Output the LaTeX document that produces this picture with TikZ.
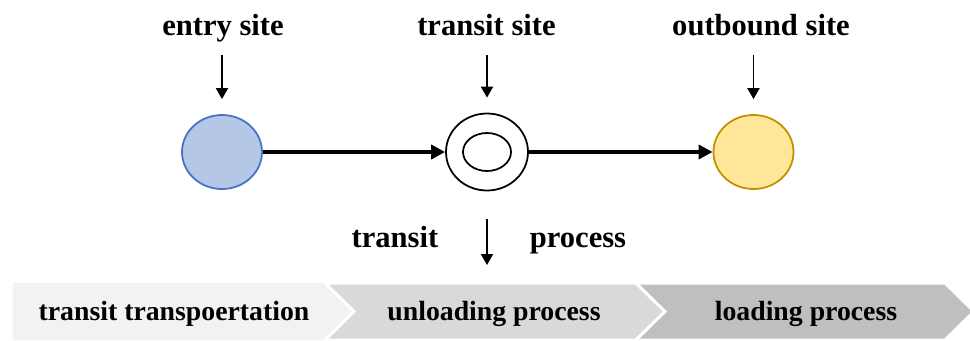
\documentclass[tikz,border=0pt]{standalone}
\usepackage{fontspec}
\setmainfont{Liberation Serif}
\usetikzlibrary{shapes.geometric,arrows.meta}
\definecolor{entryfill}{HTML}{B4C7E7}
\definecolor{entryline}{HTML}{4472C4}
\definecolor{outfill}{HTML}{FFE699}
\definecolor{outline}{HTML}{BF9000}
\tikzset{
sitelbl/.style={inner sep=0pt,anchor=base,text depth=0.25em,font=\fontsize{17.4}{20}\selectfont\bfseries},
proclbl/.style={inner sep=0pt,anchor=base,font=\fontsize{15.8}{18}\selectfont\bfseries},
site/.style={ellipse,draw,line width=1pt,minimum width=1.6cm,minimum height=1.48cm,inner sep=0pt},
thinarr/.style={line width=1.1pt,-{Triangle[length=0.22cm,width=0.24cm]}},
thickarr/.style={line width=2.3pt,-{Triangle[length=0.28cm,width=0.28cm]}}
}
\begin{document}
\begin{tikzpicture}
\useasboundingbox (0,0) rectangle (19.4,6.8);
%sites
\node[site,fill=entryfill,draw=entryline] (entry) at (4.44,3.76) {};
\node[site,minimum width=1.64cm,minimum height=1.54cm] (transit) at (9.74,3.76) {};
\node[ellipse,draw,line width=1pt,minimum width=0.96cm,minimum height=0.76cm,inner sep=0pt] (transitin) at (9.74,3.76) {};
\node[site,fill=outfill,draw=outline] (outbound) at (15.07,3.76) {};
\draw[thickarr] (entry.east)--(transit.west);
\draw[thickarr] (transit.east)--(outbound.west);
%labels
\node[sitelbl] (entrylbl) at (4.46,6.10) {entry site};
\node[sitelbl] (transitlbl) at (9.73,6.10) {transit site};
\node[sitelbl] (outlbl) at (15.22,6.10) {outbound site};
\draw[thinarr,shorten <=0.31cm,shorten >=0.30cm] (entrylbl.south -| entry.north)--(entry.north);
\draw[thinarr,shorten <=0.31cm,shorten >=0.30cm] (transitlbl.south -| transit.north)--(transit.north);
\draw[thinarr,shorten <=0.31cm,shorten >=0.30cm] (outlbl.south -| outbound.north)--(outbound.north);
%chevrons
\fill[black!5] (0.26,0)--(0.26,1.14)--(6.50,1.14)--(7.08,0.57)--(6.50,0)--cycle;
\filldraw[black!15,draw=white,line width=1.7pt] (6.50,0)--(7.08,0.57)--(6.50,1.14)--(12.72,1.14)--(13.30,0.57)--(12.72,0)--cycle;
\filldraw[black!25,draw=white,line width=1.7pt] (12.72,0)--(13.30,0.57)--(12.72,1.14)--(18.90,1.14)--(19.48,0.57)--(18.90,0)--cycle;
\node[proclbl] (carry) at (3.48,0.40) {transit transpoertation};
\node[proclbl] (unload) at (9.88,0.40) {unloading process};
\node[proclbl] (load) at (16.12,0.40) {loading process};
%transit process
\coordinate (proctop) at (9.74,1.14);
\draw[thinarr,shorten <=0.55cm,shorten >=0.36cm] (transit.south)--(proctop);
\node[sitelbl] (proca) at (7.90,1.86) {transit};
\node[sitelbl] (procb) at (11.56,1.86) {process};
\end{tikzpicture}
\end{document}
